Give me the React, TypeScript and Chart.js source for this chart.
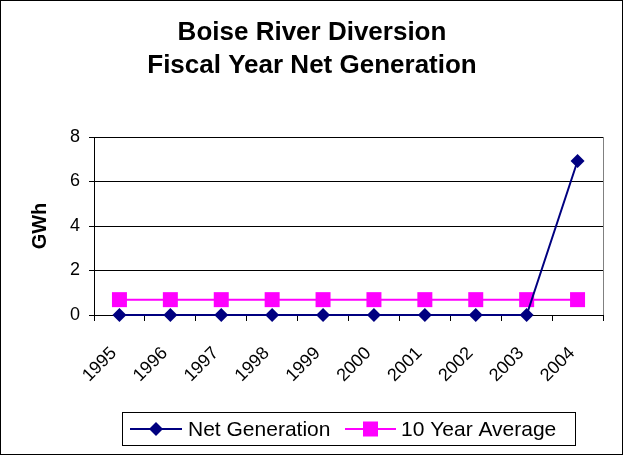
import React, { useEffect, useRef } from "react";
import { Chart, registerables } from "chart.js";

Chart.register(...registerables);

const years = ["1995", "1996", "1997", "1998", "1999", "2000", "2001", "2002", "2003", "2004"];
const netGeneration = [0, 0, 0, 0, 0, 0, 0, 0, 0, 6.92];
const tenYearAverage = [0.69, 0.69, 0.69, 0.69, 0.69, 0.69, 0.69, 0.69, 0.69, 0.69];
const yTicks = [0, 2, 4, 6, 8];
const titleLines = ["Boise River Diversion", "Fiscal Year Net Generation"];
const yAxisTitle = "GWh";
const seriesNames = ["Net Generation", "10 Year Average"];

const FONT = "'Liberation Sans', Arial, sans-serif";
const NAVY = "#000080";
const MAGENTA = "#FF00FF";

const decorPlugin = {
  id: "decor",
  afterDraw(chart: any) {
    const ctx = chart.ctx;
    const area = chart.chartArea;
    ctx.save();
    // outer border
    ctx.strokeStyle = "#000";
    ctx.lineWidth = 1;
    ctx.strokeRect(0.5, 0.5, chart.width - 1, chart.height - 1);
    // plot right border
    ctx.strokeStyle = "#808080";
    ctx.beginPath();
    ctx.moveTo(Math.round(area.right) + 0.5, area.top);
    ctx.lineTo(Math.round(area.right) + 0.5, area.bottom);
    ctx.stroke();
    // x tick labels (rotated 45°)
    const xs = chart.scales.x;
    ctx.fillStyle = "#000";
    ctx.font = `18px ${FONT}`;
    ctx.textAlign = "right";
    ctx.textBaseline = "alphabetic";
    years.forEach((label, i) => {
      const px = xs.getPixelForTick(i);
      ctx.save();
      ctx.translate(px - 2, area.bottom + 39);
      ctx.rotate(-Math.PI / 4);
      ctx.fillText(label, 0, 0);
      ctx.restore();
    });
    // title
    ctx.textAlign = "center";
    ctx.textBaseline = "middle";
    ctx.font = `bold 26px ${FONT}`;
    ctx.fillText(titleLines[0], 312, 33);
    ctx.fillText(titleLines[1], 312, 66);
    // y axis title
    ctx.save();
    ctx.translate(40, (area.top + area.bottom) / 2);
    ctx.rotate(-Math.PI / 2);
    ctx.font = `bold 20px ${FONT}`;
    ctx.fillText(yAxisTitle, 0, 0);
    ctx.restore();
    // legend
    const lx = 122, ly = 412, lw = 453, lh = 33;
    ctx.strokeStyle = "#000";
    ctx.lineWidth = 1;
    ctx.strokeRect(lx + 0.5, ly + 0.5, lw, lh);
    const cy = ly + lh / 2 + 0.5;
    ctx.font = `21px ${FONT}`;
    ctx.textAlign = "left";
    ctx.textBaseline = "middle";
    // item 1
    ctx.strokeStyle = NAVY;
    ctx.lineWidth = 2;
    ctx.beginPath();
    ctx.moveTo(130, cy);
    ctx.lineTo(182, cy);
    ctx.stroke();
    ctx.fillStyle = NAVY;
    ctx.beginPath();
    ctx.moveTo(156, cy - 7);
    ctx.lineTo(163, cy);
    ctx.lineTo(156, cy + 7);
    ctx.lineTo(149, cy);
    ctx.closePath();
    ctx.fill();
    ctx.fillStyle = "#000";
    ctx.fillText(seriesNames[0], 188, cy + 1);
    // item 2
    ctx.strokeStyle = MAGENTA;
    ctx.beginPath();
    ctx.moveTo(345, cy);
    ctx.lineTo(396, cy);
    ctx.stroke();
    ctx.fillStyle = MAGENTA;
    ctx.fillRect(363, cy - 7.5, 15, 15);
    ctx.fillStyle = "#000";
    ctx.fillText(seriesNames[1], 401, cy + 1);
    ctx.restore();
  },
};

export default function App() {
  const ref = useRef<HTMLCanvasElement | null>(null);
  useEffect(() => {
    document.body.style.margin = "0";
    const canvas = ref.current!;
    const chart = new Chart(canvas, {
      type: "line",
      data: {
        labels: years,
        datasets: [
          {
            label: seriesNames[0],
            data: netGeneration,
            borderColor: NAVY,
            backgroundColor: NAVY,
            borderWidth: 2,
            pointStyle: "rectRot",
            pointRadius: 7,
            pointBorderWidth: 0,
            pointBackgroundColor: NAVY,
            tension: 0,
            clip: false,
          },
          {
            label: seriesNames[1],
            data: tenYearAverage,
            borderColor: MAGENTA,
            backgroundColor: MAGENTA,
            borderWidth: 2,
            pointStyle: "rect",
            pointRadius: 10.6,
            pointBorderWidth: 0,
            pointBackgroundColor: MAGENTA,
            tension: 0,
            clip: false,
          },
        ],
      },
      options: {
        responsive: false,
        animation: false,
        devicePixelRatio: 1,
        layout: { padding: { top: 137, left: 0, right: 20, bottom: 0 } },
        plugins: {
          legend: { display: false },
          title: { display: false },
          tooltip: { enabled: false },
        },
        scales: {
          x: {
            type: "category",
            offset: true,
            grid: {
              offset: true,
              drawOnChartArea: false,
              drawTicks: true,
              tickLength: 6,
              color: "#000",
            },
            border: { color: "#000", width: 1 },
            ticks: {
              display: false,
              autoSkip: false,
            },
            afterFit(scale: any) {
              scale.height = 140;
            },
          },
          y: {
            min: 0,
            max: 8,
            afterBuildTicks(scale: any) {
              scale.ticks = yTicks.map((v) => ({ value: v }));
            },
            grid: {
              color: "#000",
              tickLength: 5,
              drawTicks: true,
            },
            border: { color: "#000", width: 1 },
            ticks: {
              color: "#000",
              font: { family: FONT, size: 18 },
              padding: 9,
            },
            afterFit(scale: any) {
              scale.width = 94;
            },
          },
        },
      },
      plugins: [decorPlugin],
    });
    return () => chart.destroy();
  }, []);
  return (
    <div style={{ width: 623, height: 455 }}>
      <canvas ref={ref} width={623} height={455} />
    </div>
  );
}
